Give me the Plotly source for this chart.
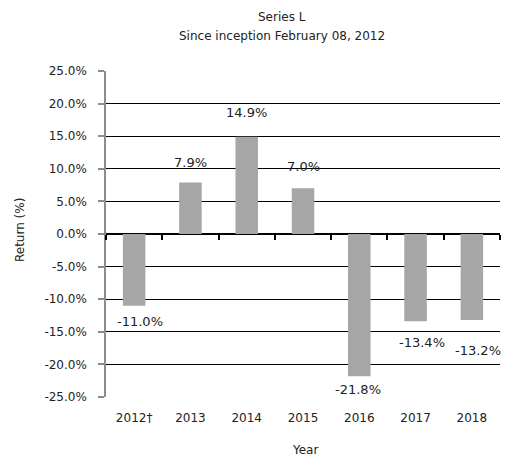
import plotly.graph_objects as go

years = ["2012†", "2013", "2014", "2015", "2016", "2017", "2018"]
returns = [-11.0, 7.9, 14.9, 7.0, -21.8, -13.4, -13.2]
label_texts = ["-11.0%", "7.9%", "14.9%", "7.0%", "-21.8%", "-13.4%", "-13.2%"]
y_ticks = [25, 20, 15, 10, 5, 0, -5, -10, -15, -20, -25]
y_tick_labels = ["25.0%", "20.0%", "15.0%", "10.0%", "5.0%", "0.0%",
                 "-5.0%", "-10.0%", "-15.0%", "-20.0%", "-25.0%"]

# label pixel offsets (style only)
label_dx = [6, 0, 0, 0, -1, 6, 6]
label_dy = [-16, 20, 24, 22, -13, -21, -30]

FONT = "DejaVu Sans"
TXT = "#222222"
W, H = 505, 461
ML, MR, MT, MB = 106, 5, 70.5, 63.5
PW, PH = W - ML - MR, H - MT - MB


def px(x):
    return (x - ML) / PW


def py(y):
    return (H - MB - y) / PH


fig = go.Figure()
fig.add_trace(go.Bar(x=years, y=returns, marker=dict(color="#a6a6a6", line=dict(width=0)),
                     width=0.4, hoverinfo="skip", xaxis="x", yaxis="y"))
# invisible trace for the zero-line axis carrying boundary ticks
fig.add_trace(go.Scatter(x=years, y=returns, mode="markers", marker=dict(opacity=0),
                         hoverinfo="skip", xaxis="x2", yaxis="y", showlegend=False))

for i, (v, t, dx, dy) in enumerate(zip(returns, label_texts, label_dx, label_dy)):
    fig.add_annotation(x=i, y=v, xref="x", yref="y", text=t, showarrow=False,
                       xshift=dx, yshift=dy, xanchor="center", yanchor="middle",
                       font=dict(family=FONT, size=13, color=TXT))

common = dict(xref="paper", yref="paper", showarrow=False, xanchor="center", yanchor="middle",
              font=dict(family=FONT, size=12, color=TXT))
fig.add_annotation(text="Series L", x=px(282), y=py(16), **common)
fig.add_annotation(text="Since inception February 08, 2012", x=px(282), y=py(35), **common)
fig.add_annotation(text="Return (%)", x=px(20), y=py(230), textangle=-90, **common)
fig.add_annotation(text="Year", x=px(305), y=py(451), **common)

fig.update_layout(
    width=W, height=H,
    margin=dict(l=ML, r=MR, t=MT, b=MB),
    paper_bgcolor="white", plot_bgcolor="white",
    showlegend=False,
    font=dict(family=FONT, size=12, color=TXT),
    xaxis=dict(type="category", categoryarray=years, range=[-0.5, 6.5],
               showgrid=False, showline=False, zeroline=False, automargin=False,
               ticks="outside", ticklen=10, tickcolor="rgba(0,0,0,0)",
               tickfont=dict(family=FONT, size=12, color=TXT)),
    xaxis2=dict(type="category", categoryarray=years, range=[-0.5, 6.5],
                overlaying="x", anchor="free", position=0.5, automargin=False,
                showline=False, showgrid=False, zeroline=False,
                ticks="outside", tickson="boundaries", ticklen=5, tickwidth=1.5,
                tickcolor="#000000", showticklabels=False),
    yaxis=dict(range=[-25, 25], tickvals=y_ticks, ticktext=y_tick_labels, automargin=False,
               showgrid=True, gridcolor="#000000", gridwidth=1.3,
               zeroline=True, zerolinecolor="#000000", zerolinewidth=1.5,
               showline=True, linecolor="#8c8c8c", linewidth=1.5,
               ticks="outside", ticklen=6, tickcolor="#8c8c8c", tickwidth=1.5,
               ticklabelstandoff=9,
               tickfont=dict(family=FONT, size=12, color=TXT)),
)

fig.write_html("out.html", config={"displayModeBar": False},
               post_script="document.body.style.margin='0';document.body.style.padding='0';")
